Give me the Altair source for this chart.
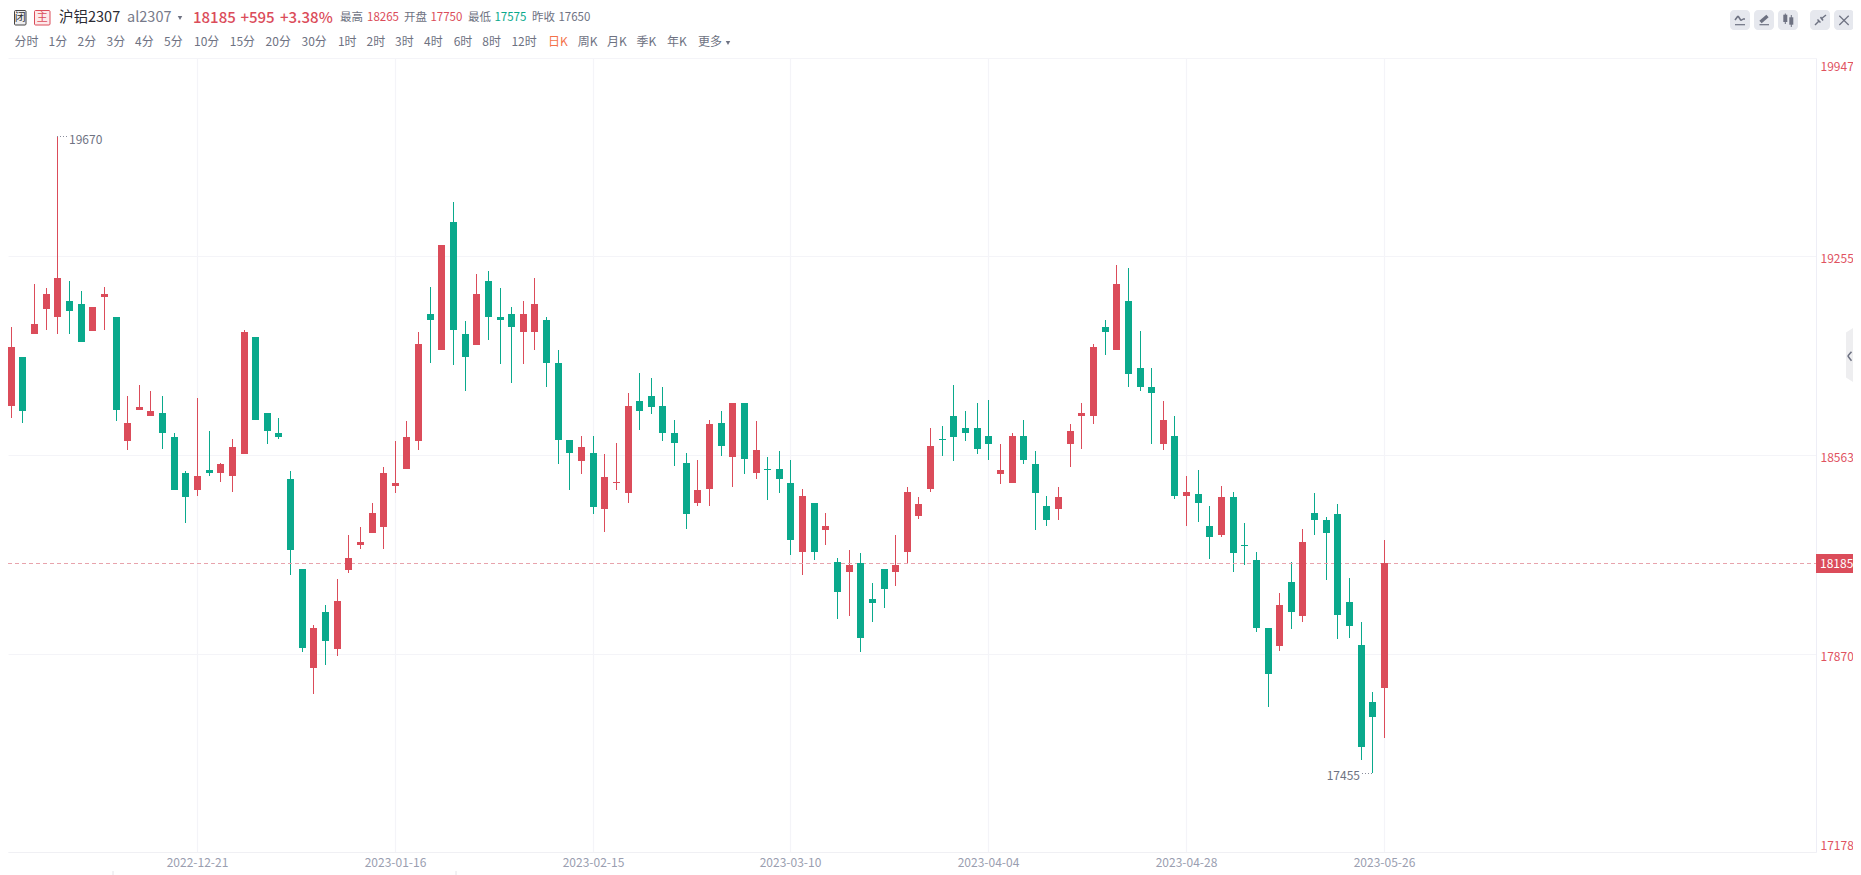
import json
import altair as alt
import pandas as pd

OPENS = [18830,18735,18905,18985,19070,19045,19100,19090,18995,19115,19045,18610,18720,18700,18710,18625,18500,18440,18510,18500,
         18490,18565,18975,18710,18640,18480,18165,17820,18015,17885,18160,18250,18290,18310,18455,18515,18610,19055,18930,19375,
         18985,18945,19170,19045,19055,18990,18990,19035,18885,18615,18540,18570,18375,18465,18430,18750,18770,18735,18640,18535,
         18395,18445,18675,18555,18745,18500,18515,18515,18465,18225,18395,18300,18190,18155,18185,18060,18165,18155,18225,18350,
         18445,18620,18700,18655,18655,18630,18495,18465,18630,18530,18385,18375,18600,18700,18700,19010,18930,19100,18865,18800,
         18600,18630,18420,18425,18315,18285,18415,18250,18195,17960,17895,18120,18000,18360,18335,18355,18050,17900,17700,17750]
CLOSES = [18680,18940,18715,19020,19125,19180,19065,18955,19080,19125,18720,18675,18730,18715,18640,18440,18415,18490,18500,18530,
          18590,18990,18685,18645,18625,18230,17890,17960,17915,18055,18205,18260,18360,18500,18465,18625,18950,19035,19295,19000,
          18905,19125,19045,19035,19010,19055,19090,18885,18615,18570,18590,18380,18485,18470,18735,18715,18730,18640,18605,18355,
          18440,18670,18595,18745,18550,18580,18510,18480,18265,18420,18225,18315,18085,18180,17925,18045,18095,18180,18435,18390,
          18595,18615,18625,18640,18585,18600,18510,18630,18545,18430,18335,18415,18645,18710,18940,18990,19160,18845,18800,18780,
          18685,18420,18435,18395,18275,18415,18220,18245,17960,17800,18040,18015,18260,18335,18290,18005,17965,17545,17650,18185]
HIGHS = [18830,19010,18905,19160,19145,19675,19170,19135,19080,19150,19045,18770,18805,18785,18770,18640,18505,18760,18645,18535,
         18620,19000,18975,18710,18690,18505,18165,17970,18040,18130,18285,18310,18395,18520,18610,18680,18990,19150,19295,19445,
         19030,19195,19205,19145,19080,19100,19180,19045,18930,18615,18630,18630,18565,18605,18780,18850,18830,18800,18685,18570,
         18545,18685,18715,18745,18745,18680,18555,18575,18545,18445,18395,18360,18205,18230,18220,18115,18165,18285,18450,18415,
         18655,18665,18805,18715,18745,18755,18600,18640,18685,18575,18420,18450,18670,18745,18950,19035,19225,19215,18995,18865,
         18750,18700,18490,18510,18385,18455,18435,18325,18225,17960,18080,18190,18305,18430,18345,18390,18135,17980,17735,18265]
LOWS = [18680,18690,18675,18985,19000,18985,18985,18955,18995,19000,18680,18580,18720,18700,18585,18440,18325,18420,18490,18470,
        18435,18565,18685,18600,18620,18145,17875,17730,17830,17860,18150,18235,18290,18235,18430,18515,18580,18885,18930,18875,
        18785,18945,18965,18880,18815,18880,18930,18800,18530,18440,18495,18355,18295,18440,18395,18650,18705,18610,18525,18305,
        18385,18385,18560,18450,18495,18480,18405,18430,18215,18145,18195,18250,17990,18000,17875,17980,18030,18105,18185,18340,
        18435,18560,18540,18610,18565,18545,18460,18465,18530,18300,18315,18335,18520,18585,18670,18910,18930,18800,18785,18600,
        18580,18410,18315,18330,18200,18275,18155,18180,17945,17685,17880,17955,17980,18285,18125,17920,17925,17500,17455,17575]

Y_TICKS = [19947, 19255, 18563, 17870, 17178]
X_TICK_INDEX = [17, 34, 51, 68, 85, 102, 119]
X_TICK_LABELS = ["2022-12-21", "2023-01-16", "2023-02-15", "2023-03-10", "2023-04-04", "2023-04-28", "2023-05-26"]
LAST_PRICE = 18185
HIGH_LABEL = 19670
LOW_LABEL = 17455

PERIODS = ["分时","1分","2分","3分","4分","5分","10分","15分","20分","30分","1时","2时","3时","4时","6时","8时","12时",
           "日K","周K","月K","季K","年K","更多"]
PERIOD_X = [14.5,48.5,77.6,106.6,135,164,194,229.8,265.6,301.5,337.9,366.5,395,424,453.7,482.3,511.4,548,577.8,607,636.5,667,698]

RED, GREEN = "#db4c5a", "#0aa98c"
FONT = "Noto Sans CJK SC"
GREY = "#6e7282"
GRID = "#f4f4f8"
LEFT, TOP = 8, 58


def px(x):
    return x - LEFT


def py(y):
    return y - TOP


def label(text, x, y, color, size=12, align="left", weight=400):
    return alt.Chart().mark_text(align=align, baseline="middle", font=FONT, fontSize=size,
                                 fontWeight=weight, color=color).encode(
        x=alt.value(px(x)), y=alt.value(py(y)), text=alt.value(text))


def seg(x1, y1, x2, y2, color=GREY, width=1.5, dash=None):
    kw = {"strokeDash": dash} if dash else {}
    return alt.Chart().mark_rule(color=color, strokeWidth=width, **kw).encode(
        x=alt.value(px(x1)), x2=alt.value(px(x2)), y=alt.value(py(y1)), y2=alt.value(py(y2)))


def box(x1, y1, x2, y2, fill, stroke=None, radius=0):
    kw = {"stroke": stroke, "strokeWidth": 1} if stroke else {}
    return alt.Chart().mark_rect(fill=fill, cornerRadius=radius, **kw).encode(
        x=alt.value(px(x1)), x2=alt.value(px(x2)), y=alt.value(py(y1)), y2=alt.value(py(y2)))


def tri(x, y):
    return alt.Chart().mark_point(shape="triangle-down", filled=True, size=20, color=GREY, opacity=1).encode(
        x=alt.value(px(x)), y=alt.value(py(y)))


df = pd.DataFrame({"i": range(len(OPENS)), "open": OPENS, "close": CLOSES, "high": HIGHS, "low": LOWS})
df["dir"] = ["up" if c >= o else "down" for o, c in zip(OPENS, CLOSES)]

x_scale = alt.Scale(domain=[0.759, 156.13], nice=False, zero=False, round=True, padding=0)
y_scale = alt.Scale(domain=[Y_TICKS[-1], Y_TICKS[0]], nice=False, zero=False, round=True, padding=0)
dir_color = alt.Color("dir:N", scale=alt.Scale(domain=["up", "down"], range=[RED, GREEN]), legend=None)

x_axis = alt.Axis(title=None, values=X_TICK_INDEX, ticks=False, grid=True, gridColor=GRID, gridWidth=1.2,
                  domainColor="#f0f0f4", labelColor="#9a9eb0", labelFont=FONT, labelFontSize=12, labelPadding=5,
                  labelOverlap=False,
                  labelExpr="%s[datum.value]" % json.dumps({str(k): v for k, v in zip(X_TICK_INDEX, X_TICK_LABELS)}))
y_axis = alt.Axis(title=None, orient="right", values=Y_TICKS, ticks=False, grid=True, gridColor=GRID, gridWidth=1,
                  domainColor="#eeeef6", labelColor="#e0525f", labelFont=FONT, labelFontSize=12, labelPadding=4,
                  labelFlush=True, labelFlushOffset=-1.5, labelOffset=2, labelAlign="left", labelOverlap=False, format="d")

wicks = alt.Chart(df).mark_rule(strokeWidth=1, xOffset=0.5).encode(
    x=alt.X("i:Q", scale=x_scale, axis=x_axis),
    y=alt.Y("high:Q", scale=y_scale, axis=y_axis),
    y2="low:Q",
    color=dir_color,
)
bodies = alt.Chart(df).mark_bar(width=7, opacity=1, xOffset=0.5).encode(
    x=alt.X("i:Q", scale=x_scale),
    y=alt.Y("open:Q", scale=y_scale),
    y2="close:Q",
    color=dir_color,
)

last_line = alt.Chart(pd.DataFrame({"p": [LAST_PRICE]})).mark_rule(
    color="#e8a3ac", strokeWidth=1, strokeDash=[4, 3], yOffset=0.5).encode(y=alt.Y("p:Q", scale=y_scale), x=alt.value(0), x2=alt.value(px(1816)))

extreme_df = pd.DataFrame({"p": [HIGHS[5], LOWS[118]], "t": [str(HIGH_LABEL), str(LOW_LABEL)],
                           "i1": [5, 118], "i2": [5.85, 117.0]})
leaders = alt.Chart(extreme_df).mark_rule(color="#8a8d9c", strokeWidth=1, strokeDash=[1, 2], yOffset=0.5).encode(
    x=alt.X("i1:Q", scale=x_scale), x2="i2:Q", y=alt.Y("p:Q", scale=y_scale))
hi_text = alt.Chart(extreme_df.iloc[[0]]).mark_text(align="left", baseline="middle", font=FONT, fontSize=12, color="#6e7282", dy=4).encode(
    x=alt.value(px(69)), y=alt.Y("p:Q", scale=y_scale), text="t:N")
lo_text = alt.Chart(extreme_df.iloc[[1]]).mark_text(align="right", baseline="middle", font=FONT, fontSize=12, color="#6e7282", dy=3).encode(
    x=alt.value(px(1360)), y=alt.Y("p:Q", scale=y_scale), text="t:N")

badge = box(1816, 554, 1853, 573, RED)
badge_text = alt.Chart(pd.DataFrame({"p": [LAST_PRICE]})).mark_text(align="left", baseline="middle", font=FONT, fontSize=12, color="#ffffff", dy=1).encode(
    x=alt.value(px(1820)), y=alt.Y("p:Q", scale=y_scale), text=alt.Text("p:Q", format="d"))

ROW1 = 17.5
header = [
    box(14.5, 10.5, 26, 25, "#eeeef0", "#444444", 1), label("闭", 20.2, 17.5, "#333333", 11, "center"),
    box(34.5, 10.5, 50, 25, "#fde9ea", RED, 1), label("主", 42.2, 17.5, RED, 11, "center"),
    label("沪铝2307", 59, ROW1, "#2b2b33", 14.5),
    label("al2307", 127, ROW1, "#777a8a", 14.5),
    tri(180, 18),
    label("18185", 193, ROW1, RED, 15, weight=500),
    label("+595", 240.4, ROW1, RED, 15, weight=500),
    label("+3.38%", 280, ROW1, RED, 15, weight=500),
    label("最高", 340, ROW1, GREY, 11.5), label("18265", 367, ROW1, RED, 11.5),
    label("开盘", 404, ROW1, GREY, 11.5), label("17750", 430.4, ROW1, RED, 11.5),
    label("最低", 468, ROW1, GREY, 11.5), label("17575", 494.4, ROW1, GREEN, 11.5),
    label("昨收", 532, ROW1, GREY, 11.5), label("17650", 558.4, ROW1, GREY, 11.5),
]
toolbar = [label(t, x, 41.5, "#f4724a" if t == "日K" else GREY, 12) for t, x in zip(PERIODS, PERIOD_X)]
toolbar.append(tri(728, 43))

BTN = "#e6e8ee"
buttons = [box(a, 10, a + 20, 30, BTN, radius=4) for a in (1730, 1754, 1778, 1810, 1834)]
glyphs = [
    seg(1735, 24.7, 1745, 24.7, width=1.2),
    seg(1735, 20, 1738, 16), seg(1738, 16, 1741, 20.5), seg(1741, 20.5, 1743, 19), seg(1743, 19, 1745, 19),
    seg(1759.5, 24.7, 1769, 24.7, width=1.2), seg(1760.5, 22, 1767.5, 16, width=3.5),
    seg(1785.3, 13.5, 1785.3, 24, width=1), box(1783.3, 14.7, 1787.3, 22, GREY),
    seg(1791.3, 15, 1791.3, 27, width=1), box(1789.3, 17.3, 1793.3, 24.7, GREY),
    seg(1815, 25, 1819, 21), seg(1821, 19, 1826, 15), seg(1817.5, 19.5, 1820.5, 22.5), seg(1820.5, 17, 1823, 20.5),
    seg(1839.3, 15.7, 1848.7, 25, width=1.2), seg(1848.7, 15.7, 1839.3, 25, width=1.2),
]
tab = alt.Chart().mark_point(shape="M-0.234,-0.7 L0.234,-1 L0.234,1 L-0.234,0.7 Z", filled=True,
                             size=4096, color="#eeeef0", opacity=1).encode(
    x=alt.value(px(1853.5)), y=alt.value(py(355)))
chevron = [seg(1851.5, 351.7, 1847.8, 356), seg(1847.8, 356, 1851.5, 360.7)]
bottom_ticks = [seg(x, 871, x, 875, color="#e4e4e8", width=1) for x in (113, 456)]

chart = alt.layer(
    wicks, last_line, bodies, leaders, hi_text, lo_text, badge, badge_text,
    *header, *toolbar, *buttons, *glyphs, tab, *chevron, *bottom_ticks,
).properties(
    width=1808, height=794,
    padding={"left": 0, "top": 50, "right": 37, "bottom": 23},
    autosize=alt.AutoSizeParams(type="none"),
    background="#ffffff",
).configure_view(strokeWidth=0)

chart.save("out.html", embed_options={"renderer": "svg", "actions": False})
